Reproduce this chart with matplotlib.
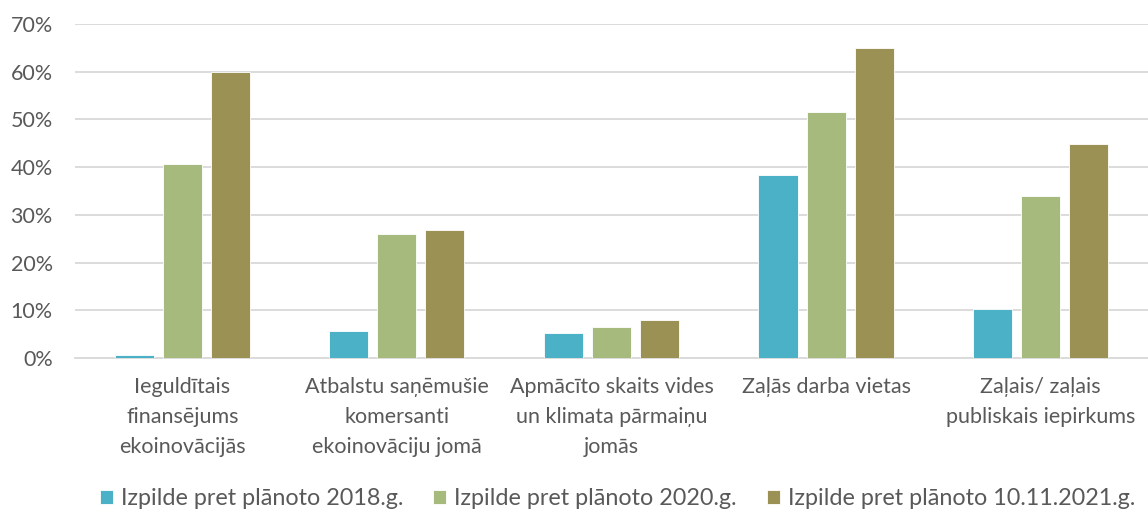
import matplotlib.pyplot as plt
import numpy as np
from matplotlib.ticker import PercentFormatter

plt.rcParams['font.family'] = ['Lato', 'DejaVu Sans']

categories = [
    "Ieguldītais\nfinansējums\nekoinovācijās",
    "Atbalstu saņēmušie\nkomersanti\nekoinovāciju jomā",
    "Apmācīto skaits vides\nun klimata pārmaiņu\njomās",
    "Zaļās darba vietas",
    "Zaļais/ zaļais\npubliskais iepirkums",
]
series_names = [
    "Izpilde pret plānoto 2018.g.",
    "Izpilde pret plānoto 2020.g.",
    "Izpilde pret plānoto 10.11.2021.g.",
]
v2018 = [0.6, 5.6, 5.3, 38.3, 10.2]
v2020 = [40.7, 26.0, 6.5, 51.6, 34.0]
v2021 = [60.0, 26.8, 7.9, 64.9, 44.9]

colors = ["#4BB1C6", "#A7BA7E", "#9B9155"]
text_color = "#595959"

fig = plt.figure(figsize=(11.48, 5.12), dpi=100)
ax = fig.add_axes([0.0653, 0.301, 0.9347, 0.652])

x = np.arange(len(categories))
w = 0.182
step = 0.224
for i, (vals, name) in enumerate(zip([v2018, v2020, v2021], series_names)):
    ax.bar(x + (i - 1) * step, vals, width=w, color=colors[i], label=name,
           edgecolor="white", linewidth=0.6, zorder=3)

ax.set_xlim(-0.5, len(categories) - 0.5)
ax.set_ylim(0, 70)
ax.set_yticks(range(0, 71, 10))
ax.yaxis.set_major_formatter(PercentFormatter(decimals=0))
ax.grid(axis="y", color="#D9D9D9", linewidth=1.3, zorder=0)
for s in ["top", "right", "left"]:
    ax.spines[s].set_visible(False)
ax.spines["bottom"].set_color("#D9D9D9")
ax.spines["bottom"].set_linewidth(1.3)
ax.tick_params(axis="both", length=0, labelsize=15.5, colors=text_color)
ax.tick_params(axis="y", pad=16)
ax.tick_params(axis="x", pad=14)
ax.set_xticks(x)
ax.set_xticklabels(categories, linespacing=1.62)

leg = fig.legend(loc="lower center", bbox_to_anchor=(0.538, -0.035), ncol=3,
                 frameon=False, fontsize=16.8, handlelength=0.55, handleheight=0.55,
                 handletextpad=0.35, columnspacing=1.3)
for t in leg.get_texts():
    t.set_color(text_color)

fig.savefig("out.png", dpi=100)
